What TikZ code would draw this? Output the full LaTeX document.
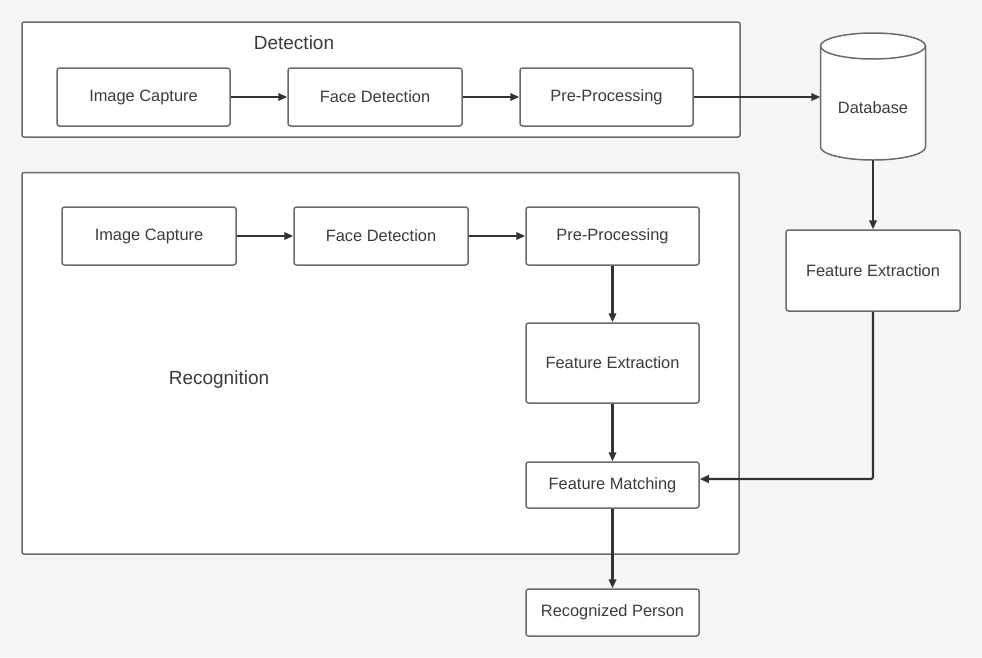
\documentclass[tikz,border=0pt]{standalone}
\usepackage{fontspec}
\setmainfont{Liberation Sans}
\usetikzlibrary{arrows.meta,calc}
\definecolor{bgc}{HTML}{F6F6F6}
\definecolor{linec}{HTML}{6B6B6B}
\definecolor{arrc}{HTML}{333333}
\definecolor{txtc}{HTML}{3C3C3C}
\tikzset{
  frame/.style={draw=linec, line width=1.5pt, fill=white, rounded corners=2pt},
  blk/.style={draw=linec, line width=1.5pt, fill=white, rounded corners=2.5pt, inner sep=0pt,
    text=txtc, font=\fontsize{16.4}{19}\selectfont, anchor=center},
  lbl/.style={text=txtc, font=\fontsize{19}{22}\selectfont, inner sep=0pt},
  arr/.style={draw=arrc, line width=2.1pt, -{Triangle[length=9pt,width=7.5pt]}},
}
\begin{document}
\begin{tikzpicture}[x=1pt,y=-1pt]
\useasboundingbox[fill=bgc] (0,0) rectangle (982,657);
% frames
\draw[frame] (22,22) rectangle (740,137);
\draw[frame] (22,172.5) rectangle (739,554);
\node[lbl] (detlbl) at (294,43) {Detection};
\node[lbl] (reclbl) at (219,380) {Recognition};
% detection blocks
\node[blk, minimum width=173pt, minimum height=58pt] (ic1) at (143.5,97) {Image Capture};
\node[blk, minimum width=174pt, minimum height=58pt] (fd1) at (375,97) {Face Detection};
\node[blk, minimum width=173pt, minimum height=58pt] (pp1) at (606.5,97) {Pre-Processing};
% recognition blocks
\node[blk, minimum width=174pt, minimum height=58pt] (ic2) at (149,236) {Image Capture};
\node[blk, minimum width=174pt, minimum height=58pt] (fd2) at (381,236) {Face Detection};
\node[blk, minimum width=173pt, minimum height=58pt] (pp2) at (612.5,236) {Pre-Processing};
\node[blk, minimum width=173pt, minimum height=80pt] (fe2) at (612.5,363) {Feature Extraction};
\node[blk, minimum width=173pt, minimum height=46pt] (fm) at (612.5,485) {Feature Matching};
\node[blk, minimum width=173pt, minimum height=47pt] (rp) at (612.5,612.5) {Recognized Person};
% right column
\node[blk, minimum width=174pt, minimum height=81pt] (fer) at (873,270.5) {Feature Extraction};
% database cylinder
\node[inner sep=0pt, minimum width=105pt, minimum height=126pt] (db) at (873,97) {};
\fill[white] (820.5,46) -- (820.5,147) arc[start angle=180,end angle=0,x radius=52.5,y radius=13] -- (925.5,46) arc[start angle=0,end angle=-180,x radius=52.5,y radius=13] -- cycle;
\draw[linec, line width=1.5pt] (820.5,46) -- (820.5,147) arc[start angle=180,end angle=0,x radius=52.5,y radius=13] -- (925.5,46);
\draw[linec, line width=1.5pt] (873,46) ellipse[x radius=52.5, y radius=13];
\node[text=txtc, font=\fontsize{16.4}{19}\selectfont] (dbt) at (873,108) {Database};
% arrows
\draw[arr] (ic1) -- (fd1);
\draw[arr] (fd1) -- (pp1);
\draw[arr] (pp1.east) -- (db.west);
\draw[arr] (db.south) -- (fer.north);
\draw[arr] (ic2) -- (fd2);
\draw[arr] (fd2) -- (pp2);
\draw[arr] (pp2) -- (fe2);
\draw[arr] (fe2) -- (fm);
\draw[arr] (fm) -- (rp);
\draw[arr, rounded corners=2pt] (fer.south) |- ([yshift=6pt]fm.east);
\end{tikzpicture}
\end{document}
